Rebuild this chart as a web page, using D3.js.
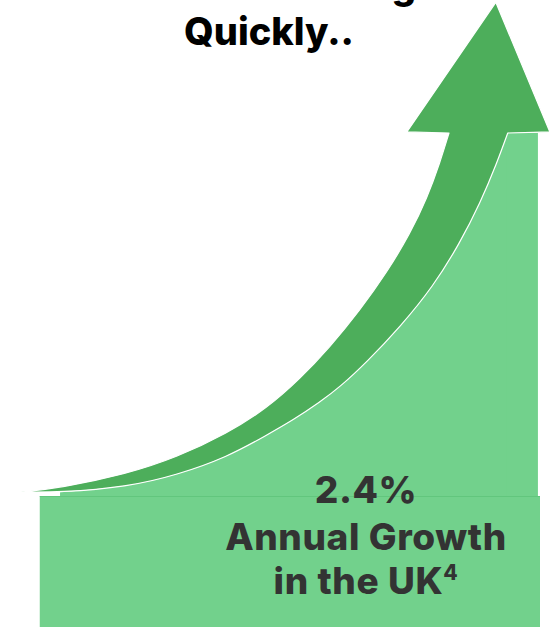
<!DOCTYPE html>
<html>
<head>
<meta charset="utf-8">
<script src="https://cdn.jsdelivr.net/npm/d3@7"></script>
<style>
  html, body { margin: 0; padding: 0; background: #fff; }
  svg { display: block; }
  text { font-family: Inter, "Open Sans", sans-serif; font-weight: 800; }
</style>
</head>
<body>
<svg id="chart" width="560" height="627"></svg>
<script>
// growth curve (time 0-100, index 0-100 at arrow base)
var upperEdge = [[0.2,1.1],[7.7,2.2],[20.6,6.1],[30.2,10.7],[39.8,17.2],[47.5,24.2],[53.8,32.2],
                 [59.6,41.0],[65.4,51.2],[70.6,61.7],[75.0,72.2],[78.3,82.1],[80.8,92.0],[82.5,100]];
var lowerEdge = [[0.2,1.1],[7.7,1.0],[20.6,2.5],[30.2,5.8],[39.8,10.7],[47.5,16.8],[52.5,20.9],
                 [57.7,25.9],[61.5,30.0],[66.7,36.9],[73.1,46.6],[79.4,57.6],[84.6,69.7],[88.5,80.7],
                 [91.7,91.7],[93.8,100]];
var arrowHead = [[74.4,100.3],[91.5,136],[101.9,100.3]];
var plotRight = [99.6, 100];   // right edge of area above / below baseline
var plotLeft = 3.8;

var titleLines = ["Market is Growing", "Quickly.."];
var statLines = ["2.4%", "Annual Growth", "in the UK"];
var statNote = "4";

var svg = d3.select("#chart"),
    width = +svg.attr("width"),
    height = +svg.attr("height");

var x = d3.scaleLinear().domain([0, 100]).range([20, 540]);
var y = d3.scaleLinear().domain([0, 100]).range([496, 133]);

var light = "#72d18c", dark = "#4dae5b";

var line = d3.line()
  .x(function(d) { return x(d[0]); })
  .y(function(d) { return y(d[1]); })
  .curve(d3.curveBasis);

// light area under the arrow
var area = d3.area()
  .x(function(d) { return x(d[0]); })
  .y0(y(0))
  .y1(function(d) { return y(d[1]); })
  .curve(d3.curveBasis);

svg.append("path")
  .datum(lowerEdge.slice(1))
  .attr("fill", light)
  .attr("d", area);

var edgeTop = lowerEdge[lowerEdge.length-1];
svg.append("rect")
  .attr("x", x(edgeTop[0]) - 1)
  .attr("y", y(100))
  .attr("width", x(plotRight[0]) - x(edgeTop[0]) + 1)
  .attr("height", y(0) - y(100))
  .attr("fill", light);

svg.append("rect")
  .attr("x", x(plotLeft))
  .attr("y", y(0))
  .attr("width", x(plotRight[1]) - x(plotLeft))
  .attr("height", height - y(0))
  .attr("fill", light);

svg.append("line")
  .attr("x1", x(plotLeft)).attr("x2", x(plotRight[1]))
  .attr("y1", y(0) + 0.5).attr("y2", y(0) + 0.5)
  .attr("stroke", "#62c67d");

// arrow: upper edge, head, lower edge back to tail
var headPath = arrowHead.map(function(d) { return "L" + x(d[0]) + "," + y(d[1]); }).join("");
var back = line(lowerEdge.slice().reverse()).replace(/^M/, "L");

svg.append("path")
  .attr("d", line(upperEdge) + headPath + back + "Z")
  .attr("fill", dark)
  .attr("stroke", "#fff")
  .attr("stroke-width", 1.2)
  .attr("stroke-linejoin", "round");

// title (first line runs off the top)
svg.append("text")
  .attr("x", 416).attr("y", -1)
  .attr("text-anchor", "end")
  .attr("font-size", 38)
  .attr("fill", "#000")
  .text(titleLines[0]);

svg.append("text")
  .attr("x", 269).attr("y", 45)
  .attr("text-anchor", "middle")
  .attr("font-size", 38)
  .attr("fill", "#000")
  .text(titleLines[1]);

// stat in the box
var statY = [503, 550, 594];
statLines.forEach(function(s, i) {
  var t = svg.append("text")
    .attr("x", 366).attr("y", statY[i])
    .attr("text-anchor", "middle")
    .attr("font-size", 37)
    .attr("letter-spacing", 0.6)
    .attr("fill", "#333");
  t.append("tspan").text(s);
  if (i == statLines.length - 1) {
    t.append("tspan")
      .attr("font-size", 21)
      .attr("dy", -14)
      .text(statNote);
  }
});
</script>
</body>
</html>
